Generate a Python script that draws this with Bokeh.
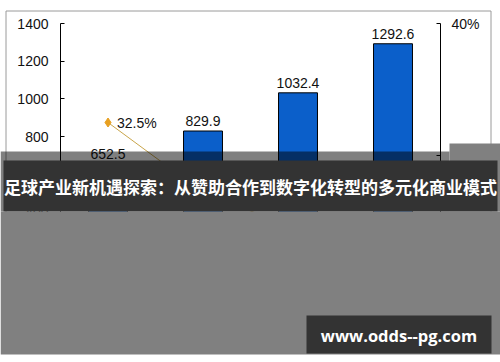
from bokeh.plotting import figure
from bokeh.models import (Range1d, LinearAxis, FixedTicker,
                          PrintfTickFormatter, BoxAnnotation, Label, ColumnDataSource)
from bokeh.core.properties import value
from bokeh.embed import file_html
from bokeh.resources import INLINE

# Revenue (bars, left axis) and year-on-year growth (line, right axis)
periods = ["第一年", "第二年", "第三年", "第四年"]
revenue = [652.5, 829.9, 1032.4, 1292.6]
growth_pct = [32.5, 27.2, 24.4, 25.2]
left_ticks = [0, 200, 400, 600, 800, 1000, 1200, 1400]
right_ticks = [20, 30, 40]
title_text = "足球产业新机遇探索：从赞助合作到数字化转型的多元化商业模式"
site_text = "www.odds--pg.com"

AXIS_FONT = "Liberation Sans"
W, H = 500, 362

# pixel geometry of the plotting area inside the canvas
PLOT_L, PLOT_R, PLOT_T, PLOT_B = 60, 440, 23, 287
LEFT_LO, LEFT_HI = 0, 1400
PCT_LO, PCT_HI = 20, 40

n = len(periods)
slot = (PLOT_R - PLOT_L) / n
x_pos = [i + 0.5 for i in range(n)]

px_per_val = (PLOT_B - PLOT_T) / (LEFT_HI - LEFT_LO)
px_per_pct = (PLOT_B - PLOT_T) / (PCT_HI - PCT_LO)

x_range = Range1d(-PLOT_L / slot, n + (W - PLOT_R) / slot)
y_range = Range1d(LEFT_LO - (H - PLOT_B) / px_per_val, LEFT_HI + PLOT_T / px_per_val)
pct_range = Range1d(PCT_LO - (H - PLOT_B) / px_per_pct, PCT_HI + PLOT_T / px_per_pct)

src = ColumnDataSource(dict(
    period=periods,
    x=x_pos,
    revenue=revenue,
    growth=growth_pct,
    revenue_label=[f"{v:.1f}" for v in revenue],
    growth_label=[f"{g:.1f}%" for g in growth_pct],
))

p = figure(width=W, height=H, x_range=x_range, y_range=y_range,
           output_backend="svg", toolbar_location=None,
           x_axis_location=None, y_axis_location=None,
           min_border=0, min_border_left=0, min_border_right=0,
           min_border_top=0, min_border_bottom=0,
           background_fill_color="white", border_fill_color="white",
           outline_line_color=None)
p.xgrid.visible = False
p.ygrid.visible = False
p.extra_y_ranges = {"pct": pct_range}


def style_axis(ax, standoff):
    ax.axis_line_color = "#000000"
    ax.axis_line_width = 1
    ax.major_tick_in = 4
    ax.major_tick_out = 0
    ax.major_tick_line_color = "#000000"
    ax.minor_tick_line_color = None
    ax.major_label_standoff = standoff
    ax.major_label_text_font = AXIS_FONT
    ax.major_label_text_font_size = "14px"
    ax.major_label_text_color = "#111111"


left_ax = LinearAxis(ticker=FixedTicker(ticks=left_ticks), bounds=(LEFT_LO, LEFT_HI),
                     fixed_location=0)
style_axis(left_ax, 12)
p.add_layout(left_ax, "left")

right_ax = LinearAxis(y_range_name="pct", ticker=FixedTicker(ticks=right_ticks),
                      formatter=PrintfTickFormatter(format="%d%%"),
                      bounds=(PCT_LO, PCT_HI), fixed_location=n)
style_axis(right_ax, 11)
p.add_layout(right_ax, "right")


def canvas_box(l, r, t, b, color, alpha=1.0, level="overlay", line_color=None):
    return BoxAnnotation(left=l, right=r, top=t, bottom=b,
                         left_units="canvas", right_units="canvas",
                         top_units="canvas", bottom_units="canvas",
                         fill_color=color, fill_alpha=alpha,
                         line_color=line_color, line_alpha=1 if line_color else 0,
                         level=level)


# outer chart border
p.add_layout(canvas_box(5.5, 490.5, 10.5, 320, None, 0, level="underlay",
                        line_color="#9a9a9a"))

# bars and their value labels
p.vbar(x="x", top="revenue", width=0.41, source=src,
       fill_color="#0b5fca", line_color="#000000", line_width=1)
p.text(x="x", y="revenue", text="revenue_label", source=src,
       text_align="center", text_baseline="bottom", y_offset=-5,
       text_font=value(AXIS_FONT), text_font_size="14px", text_color="#111111")

# growth line
p.line(x="x", y="growth", y_range_name="pct", source=src,
       line_color="#c9a54a", line_width=1)
p.scatter(x="x", y="growth", y_range_name="pct", source=src,
          marker="diamond", size=9, fill_color="#e8a020", line_color="#e8a020")
p.text(x="x", y="growth", y_range_name="pct", text="growth_label", source=src,
       text_align="left", text_baseline="middle", x_offset=9,
       text_font=value(AXIS_FONT), text_font_size="14px", text_color="#111111")

# page overlays
p.add_layout(canvas_box(0, 449, 151, 211, "#000000", 0.5))
p.add_layout(canvas_box(449, 500, 143, 211, "#808080"))
p.add_layout(canvas_box(3, 497, 160, 211, "#333333"))
p.add_layout(canvas_box(0, 500, 211, 354, "#808080"))
p.add_layout(canvas_box(306, 491, 315, 353, "#333333"))

p.add_layout(Label(x=250, y=185.5, x_units="canvas", y_units="canvas",
                   text=title_text, text_align="center", text_baseline="middle",
                   text_color="white", text_font="Noto Sans CJK SC",
                   text_font_style="bold", text_font_size="17px", level="overlay"))
p.add_layout(Label(x=398.5, y=335, x_units="canvas", y_units="canvas",
                   text=site_text, text_align="center", text_baseline="middle",
                   text_color="white", text_font="Open Sans",
                   text_font_style="bold", text_font_size="16.5px", level="overlay"))

open("out.html", "w").write(file_html(p, INLINE))
